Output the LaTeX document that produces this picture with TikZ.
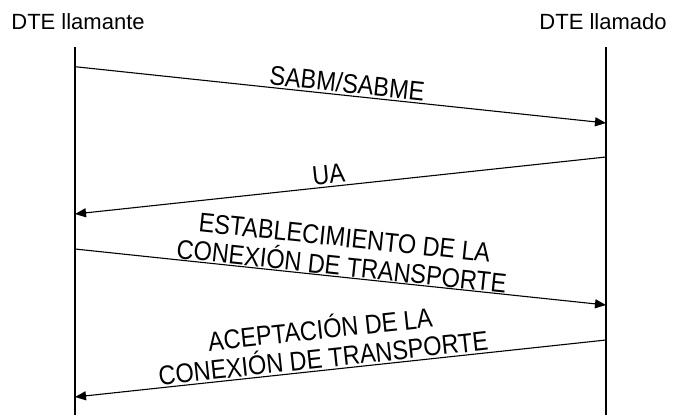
\documentclass[tikz,border=0pt]{standalone}
\usepackage{fontspec}
\setmainfont{Liberation Sans}
\usetikzlibrary{arrows.meta}

\begin{document}
\begin{tikzpicture}[x=1pt, y=-1pt, >={Triangle[length=11pt,width=9pt]},
  life/.style={line width=2pt},
  msg/.style={line width=1.1pt, ->},
  lbl/.style={font=\fontsize{23.5}{25}\selectfont, align=center, inner sep=0.5pt, yscale=1.15}]
\useasboundingbox (0,0) rectangle (676,415);

% the two stations
\node[font=\fontsize{22}{24}\selectfont, anchor=base] (llamante) at (78,29) {DTE llamante};
\node[font=\fontsize{22}{24}\selectfont, anchor=base] (llamado) at (603,29) {DTE llamado};

% the time lines
\coordinate (a0) at (75,47);
\coordinate (a1) at (75,415);
\coordinate (b0) at (606,47);
\coordinate (b1) at (606,415);
\draw[life] (a0) -- (a1);
\draw[life] (b0) -- (b1);

% ends of the messages on both lines
\foreach \n/\ya/\yb in {1/66.7/123, 2/214/157, 3/249/305, 4/397/340} {
\coordinate (m\n a) at (75,\ya);
\coordinate (m\n b) at (606,\yb);
}

% the messages
\draw[msg] (m1a) -- node[lbl, sloped, above=1pt, pos=0.51] {SABM/SABME} (m1b);
\draw[msg] (m2b) -- node[lbl, sloped, above=1pt, pos=0.52] {UA} (m2a);
\draw[msg] (m3a) -- node[lbl, sloped, above, pos=0.5] {ESTABLECIMIENTO DE LA\\CONEXIÓN DE TRANSPORTE} (m3b);
\draw[msg] (m4b) -- node[lbl, sloped, above=1pt, pos=0.53] {ACEPTACIÓN DE LA\\CONEXIÓN DE TRANSPORTE} (m4a);
\end{tikzpicture}
\end{document}
